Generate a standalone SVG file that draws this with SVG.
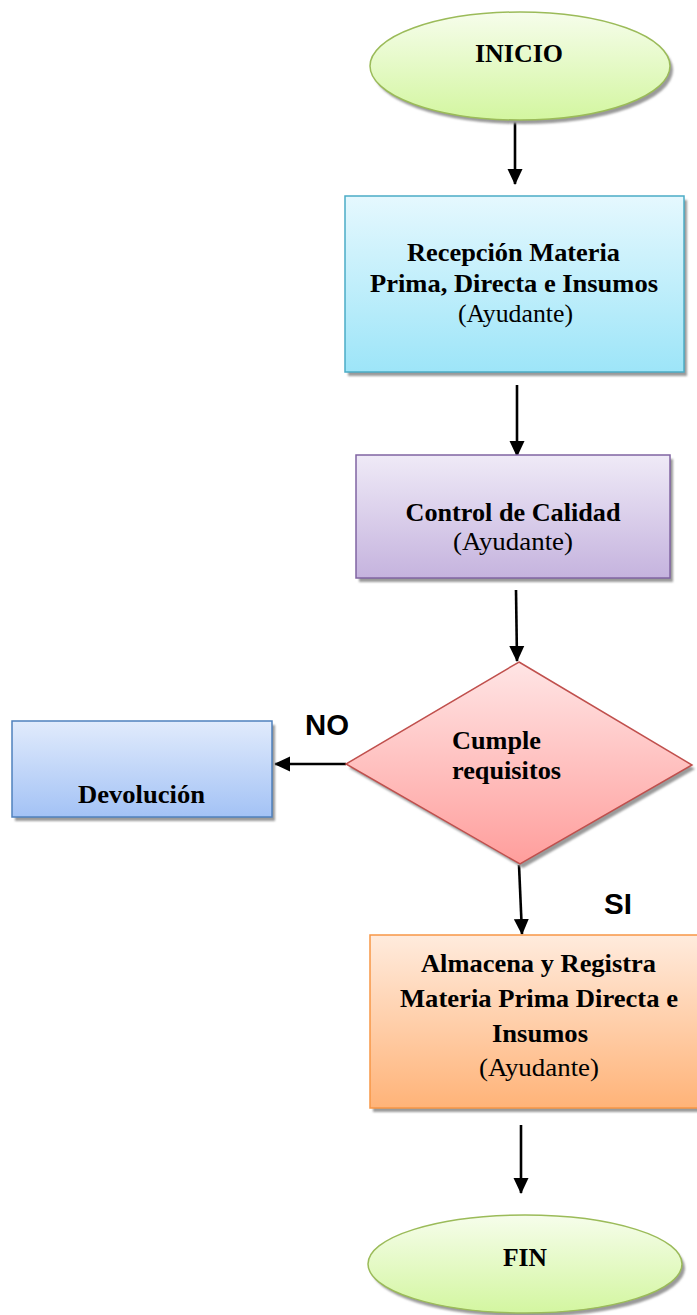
<svg xmlns="http://www.w3.org/2000/svg" width="697" height="1315" viewBox="0 0 697 1315">
<style>
.b{font-family:"Liberation Serif","Times New Roman",serif;font-weight:bold;font-size:26px;fill:#000}
.r{font-family:"Liberation Serif","Times New Roman",serif;font-size:26px;fill:#000}
.lab{font-family:"Liberation Sans",Arial,sans-serif;font-weight:bold;font-size:29px;fill:#000}
.sh{fill:#9a9a9a;filter:url(#blur)}
.conn{stroke:#000;stroke-width:2.6;fill:none;marker-end:url(#arr)}
</style>
<defs>
<filter id="blur" x="-10%" y="-10%" width="120%" height="120%"><feGaussianBlur stdDeviation="1"/></filter>
<marker id="arr" markerUnits="userSpaceOnUse" markerWidth="16" markerHeight="16" viewBox="0 0 16 16" refX="15" refY="8" orient="auto">
<path d="M0,0.5 L16,8 L0,15.5 z" fill="#000"/>
</marker>
<linearGradient id="gG" x1="0" y1="0" x2="0" y2="1"><stop offset="0" stop-color="#F6FDEB"/><stop offset="1" stop-color="#D3F6A0"/></linearGradient>
<linearGradient id="gC" x1="0" y1="0" x2="0" y2="1"><stop offset="0" stop-color="#E5F8FE"/><stop offset="1" stop-color="#9DE5F8"/></linearGradient>
<linearGradient id="gP" x1="0" y1="0" x2="0" y2="1"><stop offset="0" stop-color="#EFEAF7"/><stop offset="1" stop-color="#C5B3DE"/></linearGradient>
<linearGradient id="gR" x1="0" y1="0" x2="0" y2="1"><stop offset="0" stop-color="#FFE5E5"/><stop offset="1" stop-color="#FF9E9C"/></linearGradient>
<linearGradient id="gB" x1="0" y1="0" x2="0" y2="1"><stop offset="0" stop-color="#E1EBFC"/><stop offset="1" stop-color="#A3C2F5"/></linearGradient>
<linearGradient id="gO" x1="0" y1="0" x2="0" y2="1"><stop offset="0" stop-color="#FFEBDD"/><stop offset="1" stop-color="#FFB378"/></linearGradient>
</defs>

<g id="connectors">
<line class="conn" x1="515" y1="120" x2="515" y2="184"/>
<line class="conn" x1="517" y1="385" x2="517" y2="456"/>
<line class="conn" x1="516" y1="590" x2="517" y2="661"/>
<line class="conn" x1="346" y1="764" x2="275" y2="764"/>
<line class="conn" x1="519" y1="865" x2="522" y2="934"/>
<line class="conn" x1="521" y1="1125" x2="521" y2="1193"/>
</g>

<g id="inicio">
<ellipse class="sh" cx="523" cy="70" rx="150" ry="54"/>
<ellipse cx="520" cy="66" rx="150" ry="54" fill="url(#gG)" stroke="#9BBB59" stroke-width="1.5"/>
<text class="b" x="519" y="62" text-anchor="middle" textLength="88" lengthAdjust="spacingAndGlyphs">INICIO</text>
</g>

<g id="recepcion">
<rect class="sh" x="348" y="200" width="339" height="176"/>
<rect x="345" y="196" width="339" height="176" fill="url(#gC)" stroke="#4BACC6" stroke-width="1.5"/>
<text class="b" x="513.5" y="261" text-anchor="middle" textLength="213" lengthAdjust="spacingAndGlyphs">Recepción Materia</text>
<text class="b" x="514" y="292" text-anchor="middle" textLength="288" lengthAdjust="spacingAndGlyphs">Prima, Directa e Insumos</text>
<text class="r" x="515.5" y="322" text-anchor="middle" textLength="115" lengthAdjust="spacingAndGlyphs">(Ayudante)</text>
</g>

<g id="control">
<rect class="sh" x="359" y="459" width="314" height="123"/>
<rect x="356" y="455" width="314" height="123" fill="url(#gP)" stroke="#8064A2" stroke-width="1.5"/>
<text class="b" x="513" y="521" text-anchor="middle" textLength="215" lengthAdjust="spacingAndGlyphs">Control de Calidad</text>
<text class="r" x="513" y="550" text-anchor="middle" textLength="120" lengthAdjust="spacingAndGlyphs">(Ayudante)</text>
</g>

<g id="decision">
<polygon class="sh" points="522,666 695,769 523,868 349,768"/>
<polygon points="519,662 692,765 520,864 346,764" fill="url(#gR)" stroke="#C0504D" stroke-width="1.5"/>
<text class="b" x="452" y="749" textLength="89" lengthAdjust="spacingAndGlyphs">Cumple</text>
<text class="b" x="452" y="779" textLength="109" lengthAdjust="spacingAndGlyphs">requisitos</text>
</g>

<g id="devolucion">
<rect class="sh" x="15" y="725" width="260" height="96"/>
<rect x="12" y="721" width="260" height="96" fill="url(#gB)" stroke="#4F81BD" stroke-width="1.5"/>
<text class="b" x="78" y="803" textLength="127" lengthAdjust="spacingAndGlyphs">Devolución</text>
</g>

<g id="almacena">
<rect class="sh" x="373" y="939" width="330" height="173"/>
<rect x="370" y="935" width="330" height="173" fill="url(#gO)" stroke="#F79646" stroke-width="1.5"/>
<text class="b" x="538.5" y="972" text-anchor="middle" textLength="235" lengthAdjust="spacingAndGlyphs">Almacena y Registra</text>
<text class="b" x="539" y="1007" text-anchor="middle" textLength="278" lengthAdjust="spacingAndGlyphs">Materia Prima Directa e</text>
<text class="b" x="540" y="1042" text-anchor="middle" textLength="96" lengthAdjust="spacingAndGlyphs">Insumos</text>
<text class="r" x="539" y="1076" text-anchor="middle" textLength="120" lengthAdjust="spacingAndGlyphs">(Ayudante)</text>
</g>

<g id="fin">
<ellipse class="sh" cx="528" cy="1268" rx="157" ry="49"/>
<ellipse cx="525" cy="1264" rx="157" ry="49" fill="url(#gG)" stroke="#9BBB59" stroke-width="1.5"/>
<text class="b" x="525" y="1266" text-anchor="middle" textLength="44" lengthAdjust="spacingAndGlyphs">FIN</text>
</g>

<g id="labels">
<text class="lab" x="305" y="735" textLength="44" lengthAdjust="spacingAndGlyphs">NO</text>
<text class="lab" x="604" y="914" textLength="28" lengthAdjust="spacingAndGlyphs">SI</text>
</g>
</svg>
